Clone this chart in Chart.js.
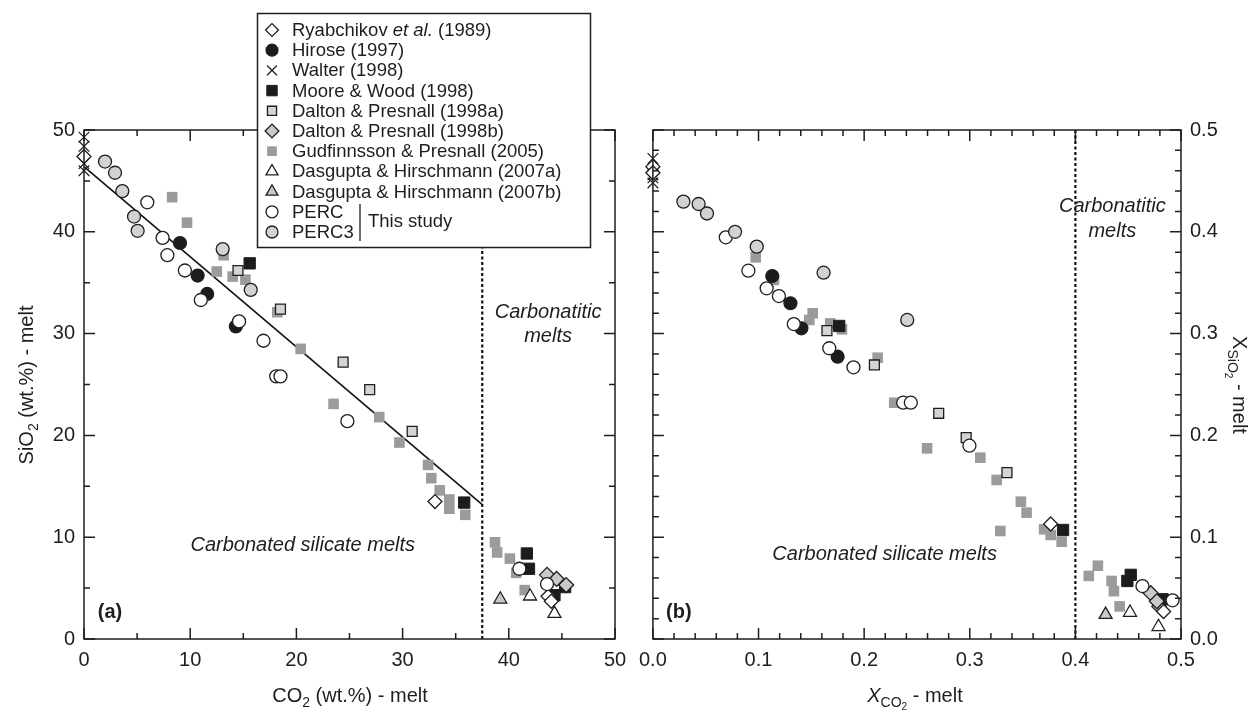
<!DOCTYPE html>
<html>
<head>
<meta charset="utf-8">
<title>SiO2 vs CO2 in melts</title>
<script src="https://cdn.jsdelivr.net/npm/chart.js@4.4.1/dist/chart.umd.min.js"></script>
<style>
  body { margin: 0; background: #fff; }
  #wrap { position: relative; width: 1259px; height: 712px; overflow: hidden; }
  canvas { position: absolute; top: 0; }
  #chartA { left: 0; }
  #chartB { left: 630px; }
</style>
</head>
<body>
<div id="wrap">
  <canvas id="chartA" width="640" height="712"></canvas>
  <canvas id="chartB" width="629" height="712"></canvas>
</div>
<script>
// panel (a): CO2 (wt.%) vs SiO2 (wt.%)
const ryabA = [[0, 47.4], [33.05, 13.5], [43.7, 4.2], [44.0, 3.7]];
const hiroseA = [[9.04, 38.9], [10.7, 35.7], [11.6, 33.9], [14.3, 30.7]];
const walterA = [[0, 49.3], [0, 48.4], [0, 46.7], [0, 46.0]];
const mooreA = [[15.6, 36.9], [35.8, 13.4], [41.7, 8.4], [41.9, 6.9], [44.3, 4.3], [45.3, 5.1]];
const daltonAA = [[14.5, 36.2], [18.5, 32.4], [24.4, 27.2], [26.9, 24.5], [30.9, 20.4]];
const daltonBA = [[43.6, 6.3], [44.5, 5.9], [45.4, 5.3]];
const gudfA = [[8.3, 43.4], [9.7, 40.9], [13.15, 37.7], [12.5, 36.1], [14.0, 35.6], [15.2, 35.3],
  [18.2, 32.1], [20.4, 28.5], [23.5, 23.1], [27.8, 21.8], [29.7, 19.3], [32.4, 17.1], [32.7, 15.8],
  [33.5, 14.6], [34.4, 13.7], [34.4, 12.8], [35.9, 12.2], [38.7, 9.5], [38.9, 8.5], [40.1, 7.9],
  [40.7, 6.5], [41.5, 4.8]];
const dasAA = [[42.0, 4.2], [44.3, 2.5]];
const dasBA = [[39.2, 3.9]];
const percA = [[5.96, 42.9], [7.4, 39.4], [7.85, 37.7], [9.5, 36.2], [11.0, 33.3], [14.6, 31.2],
  [16.9, 29.3], [18.1, 25.8], [18.5, 25.8], [24.8, 21.4], [41.0, 6.9], [43.6, 5.4]];
const perc3A = [[1.98, 46.9], [2.92, 45.8], [3.61, 44.0], [4.71, 41.5], [5.05, 40.1], [13.06, 38.3], [15.7, 34.3]];
const fitA = [[0, 46.4], [37.5, 13.2]];
const limitA = 37.5;

// panel (b): mole fractions X_CO2 vs X_SiO2
const ryabB = [[0, 0.464], [0, 0.458], [0.3766, 0.113], [0.479, 0.032], [0.4835, 0.027]];
const hiroseB = [[0.113, 0.3566], [0.1302, 0.3298], [0.1406, 0.3052], [0.1749, 0.2773]];
const walterB = [[0, 0.472], [0, 0.456], [0, 0.453], [0, 0.448]];
const mooreB = [[0.1764, 0.3075], [0.3883, 0.1071], [0.4492, 0.057], [0.4524, 0.063], [0.4825, 0.039]];
const daltonAB = [[0.1648, 0.3029], [0.2097, 0.2692], [0.2706, 0.2217], [0.2966, 0.1978], [0.3352, 0.1634]];
const daltonBB = [[0.4714, 0.045], [0.4771, 0.037]];
const gudfB = [[0.0973, 0.3749], [0.1146, 0.3527], [0.1513, 0.32], [0.1481, 0.3134], [0.1679, 0.31],
  [0.179, 0.3042], [0.2128, 0.2763], [0.2285, 0.2321], [0.2596, 0.1873], [0.310, 0.1781], [0.3255, 0.1562],
  [0.3484, 0.1349], [0.3538, 0.1241], [0.3289, 0.1061], [0.3704, 0.1078], [0.3766, 0.1022], [0.387, 0.0956],
  [0.4127, 0.062], [0.4213, 0.072], [0.4343, 0.057], [0.4365, 0.047], [0.4419, 0.032]];
const dasAB = [[0.4517, 0.026], [0.4787, 0.012]];
const dasBB = [[0.4286, 0.024]];
const percB = [[0.069, 0.3946], [0.0904, 0.3618], [0.1077, 0.3445], [0.1193, 0.3369], [0.1334, 0.3094],
  [0.167, 0.2856], [0.1899, 0.2669], [0.237, 0.2321], [0.2442, 0.2321], [0.2997, 0.1899], [0.4635, 0.052], [0.492, 0.038]];
const perc3B = [[0.0289, 0.4296], [0.0433, 0.4273], [0.0512, 0.418], [0.0778, 0.400], [0.0983, 0.3854],
  [0.1616, 0.3598], [0.2408, 0.3134]];
const limitB = 0.4;

// axis ticks
const ticksA = [0, 10, 20, 30, 40, 50];
const minorA = [5, 15, 25, 35, 45];
const ticksB = [0, 0.1, 0.2, 0.3, 0.4, 0.5];
const minorB = [0.02, 0.04, 0.06, 0.08, 0.12, 0.14, 0.16, 0.18, 0.22, 0.24, 0.26, 0.28,
  0.32, 0.34, 0.36, 0.38, 0.42, 0.44, 0.46, 0.48];

const FONT = "'Liberation Sans', Arial, Helvetica, sans-serif";
const INK = '#1e1e1e';

const looks = {
  ryab:    { style: 'rectRot',  r: 7,   fill: '#ffffff', line: INK, bw: 1.3, order: 6 },
  hirose:  { style: 'circle',   r: 6.5, fill: '#1c1c1c', line: INK, bw: 1.2, order: 10 },
  walter:  { style: 'crossRot', r: 7.5, fill: INK,       line: INK, bw: 1.2, order: 9 },
  moore:   { style: 'rect',     r: 8,   fill: '#1c1c1c', line: INK, bw: 1,   order: 8 },
  daltonA: { style: 'rect',     r: 7,   fill: '#d4d4d4', line: INK, bw: 1.3, order: 7 },
  daltonB: { style: 'rectRot',  r: 7.5, fill: '#c9c9c9', line: INK, bw: 1.3, order: 5 },
  gudf:    { style: 'rect',     r: 7.5, fill: '#9b9b9b', line: '#9b9b9b', bw: 0, order: 11 },
  dasA:    { style: 'triangle', r: 7.5, fill: '#ffffff', line: INK, bw: 1.3, order: 4 },
  dasB:    { style: 'triangle', r: 7.5, fill: '#c9c9c9', line: INK, bw: 1.3, order: 3 },
  perc:    { style: 'circle',   r: 6.5, fill: '#ffffff', line: INK, bw: 1.3, order: 2 },
  perc3:   { style: 'circle',   r: 6.5, fill: '#d2d2d2', line: INK, bw: 1.3, order: 1 }
};

const labels = {
  ryab: 'Ryabchikov et al. (1989)',
  hirose: 'Hirose (1997)',
  walter: 'Walter (1998)',
  moore: 'Moore & Wood (1998)',
  daltonA: 'Dalton & Presnall (1998a)',
  daltonB: 'Dalton & Presnall (1998b)',
  gudf: 'Gudfinnsson & Presnall (2005)',
  dasA: 'Dasgupta & Hirschmann (2007a)',
  dasB: 'Dasgupta & Hirschmann (2007b)',
  perc: 'PERC',
  perc3: 'PERC3'
};

const seriesA = { ryab: ryabA, hirose: hiroseA, walter: walterA, moore: mooreA, daltonA: daltonAA,
  daltonB: daltonBA, gudf: gudfA, dasA: dasAA, dasB: dasBA, perc: percA, perc3: perc3A };
const seriesB = { ryab: ryabB, hirose: hiroseB, walter: walterB, moore: mooreB, daltonA: daltonAB,
  daltonB: daltonBB, gudf: gudfB, dasA: dasAB, dasB: dasBB, perc: percB, perc3: perc3B };

function toXY(pts) {
  return pts.map(p => ({ x: p[0], y: p[1] }));
}

function pointSets(series) {
  return Object.keys(series).map(key => {
    const lk = looks[key];
    return {
      label: labels[key],
      data: toXY(series[key]),
      pointStyle: lk.style,
      pointRadius: lk.r,
      pointHoverRadius: lk.r,
      pointBackgroundColor: lk.fill,
      pointBorderColor: lk.line,
      pointBorderWidth: lk.bw,
      showLine: false,
      clip: false,
      order: lk.order
    };
  });
}

function lineSet(pts, dash, width, order) {
  return {
    label: '',
    data: toXY(pts),
    showLine: true,
    pointRadius: 0,
    borderColor: '#111',
    borderWidth: width,
    borderDash: dash,
    clip: false,
    order
  };
}

// text with sub/superscript pieces, centred on (x, baseline y), optionally rotated
function richText(ctx, parts, x, y, angle) {
  ctx.save();
  ctx.translate(x, y);
  ctx.rotate(angle || 0);
  ctx.textAlign = 'left';
  ctx.textBaseline = 'alphabetic';
  ctx.fillStyle = INK;
  let total = 0;
  parts.forEach(p => {
    ctx.font = (p.style || '') + ' ' + p.size + 'px ' + FONT;
    p.w = ctx.measureText(p.t).width;
    total += p.w;
  });
  let cx = -total / 2;
  parts.forEach(p => {
    ctx.font = (p.style || '') + ' ' + p.size + 'px ' + FONT;
    ctx.fillText(p.t, cx, p.dy || 0);
    cx += p.w;
  });
  ctx.restore();
}

// box, inward tick marks and notes
function framePlugin(major, minor, notes, titles) {
  return {
    id: 'frame',
    afterDatasetsDraw(chart) {
      const ctx = chart.ctx;
      const a = chart.chartArea;
      const xs = chart.scales.x;
      const ys = chart.scales.y;
      ctx.save();
      ctx.setLineDash([]);
      ctx.strokeStyle = INK;
      ctx.lineWidth = 1.5;
      ctx.strokeRect(a.left, a.top, a.right - a.left, a.bottom - a.top);
      ctx.beginPath();
      const mark = (vals, len) => {
        vals.forEach(v => {
          const px = xs.getPixelForValue(v);
          ctx.moveTo(px, a.bottom); ctx.lineTo(px, a.bottom - len);
          ctx.moveTo(px, a.top); ctx.lineTo(px, a.top + len);
          const py = ys.getPixelForValue(v);
          ctx.moveTo(a.left, py); ctx.lineTo(a.left + len, py);
          ctx.moveTo(a.right, py); ctx.lineTo(a.right - len, py);
        });
      };
      mark(major, 11);
      mark(minor, 6);
      ctx.stroke();

      ctx.fillStyle = INK;
      ctx.textAlign = 'center';
      ctx.textBaseline = 'middle';
      notes.forEach(n => {
        ctx.font = n.style + ' 20px ' + FONT;
        ctx.fillText(n.text, xs.getPixelForValue(n.x), ys.getPixelForValue(n.y));
      });
      titles.forEach(t => richText(ctx, t.parts, t.x, t.y, t.angle));
      ctx.restore();
    }
  };
}

// legend box with the "This study" bracket
const legendPlugin = {
  id: 'boxLegend',
  afterDraw(chart) {
    const ctx = chart.ctx;
    const box = { x: 257, y: 13, w: 333, h: 234 };
    ctx.save();
    ctx.setLineDash([]);
    ctx.fillStyle = '#fff';
    ctx.fillRect(box.x, box.y, box.w, box.h);
    ctx.strokeStyle = INK;
    ctx.lineWidth = 1.5;
    ctx.strokeRect(box.x + 0.5, box.y + 0.5, box.w, box.h);

    Object.keys(labels).forEach((key, i) => {
      const lk = looks[key];
      const y = 30 + i * 20.2;
      ctx.fillStyle = lk.fill;
      ctx.strokeStyle = lk.line;
      ctx.lineWidth = lk.bw;
      Chart.helpers.drawPoint(ctx, { pointStyle: lk.style, radius: lk.r * 0.92, rotation: 0, borderWidth: lk.bw }, 272, y);

      ctx.fillStyle = INK;
      ctx.textAlign = 'left';
      ctx.textBaseline = 'middle';
      const text = labels[key];
      const cut = text.indexOf('et al.');
      let tx = 292;
      const pieces = cut < 0 ? [[text, '']] : [[text.slice(0, cut), ''], ['et al.', 'italic'], [text.slice(cut + 6), '']];
      pieces.forEach(([t, style]) => {
        ctx.font = style + ' 18.5px ' + FONT;
        ctx.fillText(t, tx, y + 1);
        tx += ctx.measureText(t).width;
      });
    });

    ctx.beginPath();
    ctx.lineWidth = 1.3;
    ctx.moveTo(360, 204);
    ctx.lineTo(360, 241);
    ctx.stroke();
    ctx.font = '18.5px ' + FONT;
    ctx.fillText('This study', 368, 222);
    ctx.restore();
  }
};

function axisOptions(min, max, ticks, fmt, extra) {
  return Object.assign({
    type: 'linear',
    min,
    max,
    afterBuildTicks: s => { s.ticks = ticks.map(v => ({ value: v })); },
    ticks: {
      color: INK,
      font: { family: FONT, size: 20 },
      padding: 9,
      maxRotation: 0,
      autoSkip: false,
      callback: fmt
    },
    grid: { display: false, drawTicks: false },
    border: { display: false }
  }, extra);
}

const whole = v => String(v);
const oneDec = v => v.toFixed(1);

const chartA = new Chart(document.getElementById('chartA'), {
  type: 'scatter',
  data: {
    datasets: pointSets(seriesA).concat([
      lineSet(fitA, [], 1.6, 12),
      lineSet([[limitA, 0], [limitA, 50]], [3, 2.5], 2.2, 13)
    ])
  },
  options: {
    responsive: false,
    animation: false,
    events: [],
    layout: { padding: { left: 0, top: 130, right: 25, bottom: 0 } },
    plugins: { legend: { display: false }, tooltip: { enabled: false } },
    scales: {
      x: axisOptions(0, 50, ticksA, whole, { position: 'bottom', afterFit: s => { s.height = 73; } }),
      y: axisOptions(0, 50, ticksA, whole, { position: 'left', afterFit: s => { s.width = 84; } })
    }
  },
  plugins: [
    framePlugin(ticksA, minorA, [
      { text: 'Carbonated silicate melts', x: 20.6, y: 9.2, style: 'italic' },
      { text: 'Carbonatitic', x: 43.7, y: 32.1, style: 'italic' },
      { text: 'melts', x: 43.7, y: 29.7, style: 'italic' },
      { text: '(a)', x: 2.45, y: 2.6, style: 'bold' }
    ], [
      { x: 350, y: 702, angle: 0, parts: [
        { t: 'CO', size: 20 }, { t: '2', size: 14, dy: 5 }, { t: ' (wt.%) - melt', size: 20 }] },
      { x: 33, y: 385, angle: -Math.PI / 2, parts: [
        { t: 'SiO', size: 20 }, { t: '2', size: 14, dy: 5 }, { t: ' (wt.%) - melt', size: 20 }] }
    ]),
    legendPlugin
  ]
});

const chartB = new Chart(document.getElementById('chartB'), {
  type: 'scatter',
  data: {
    datasets: pointSets(seriesB).concat([
      lineSet([[limitB, 0], [limitB, 0.5]], [3, 2.5], 2.2, 13)
    ])
  },
  options: {
    responsive: false,
    animation: false,
    events: [],
    layout: { padding: { left: 20, top: 130, right: 0, bottom: 0 } },
    plugins: { legend: { display: false }, tooltip: { enabled: false } },
    scales: {
      x: axisOptions(0, 0.5, ticksB, oneDec, { position: 'bottom', afterFit: s => { s.height = 73; } }),
      y: axisOptions(0, 0.5, ticksB, oneDec, { position: 'right', afterFit: s => { s.width = 78; } })
    }
  },
  plugins: [
    framePlugin(ticksB, minorB, [
      { text: 'Carbonated silicate melts', x: 0.2194, y: 0.0835, style: 'italic' },
      { text: 'Carbonatitic', x: 0.435, y: 0.4245, style: 'italic' },
      { text: 'melts', x: 0.435, y: 0.4, style: 'italic' },
      { text: '(b)', x: 0.0245, y: 0.026, style: 'bold' }
    ], [
      { x: 285, y: 702, angle: 0, parts: [
        { t: 'X', size: 20, style: 'italic' }, { t: 'CO', size: 14, dy: 5 }, { t: '2', size: 10, dy: 8 },
        { t: ' - melt', size: 20 }] },
      { x: 603, y: 385, angle: Math.PI / 2, parts: [
        { t: 'X', size: 20 }, { t: 'SiO', size: 14, dy: 5 }, { t: '2', size: 10, dy: 8 },
        { t: ' - melt', size: 20 }] }
    ])
  ]
});
</script>
</body>
</html>
